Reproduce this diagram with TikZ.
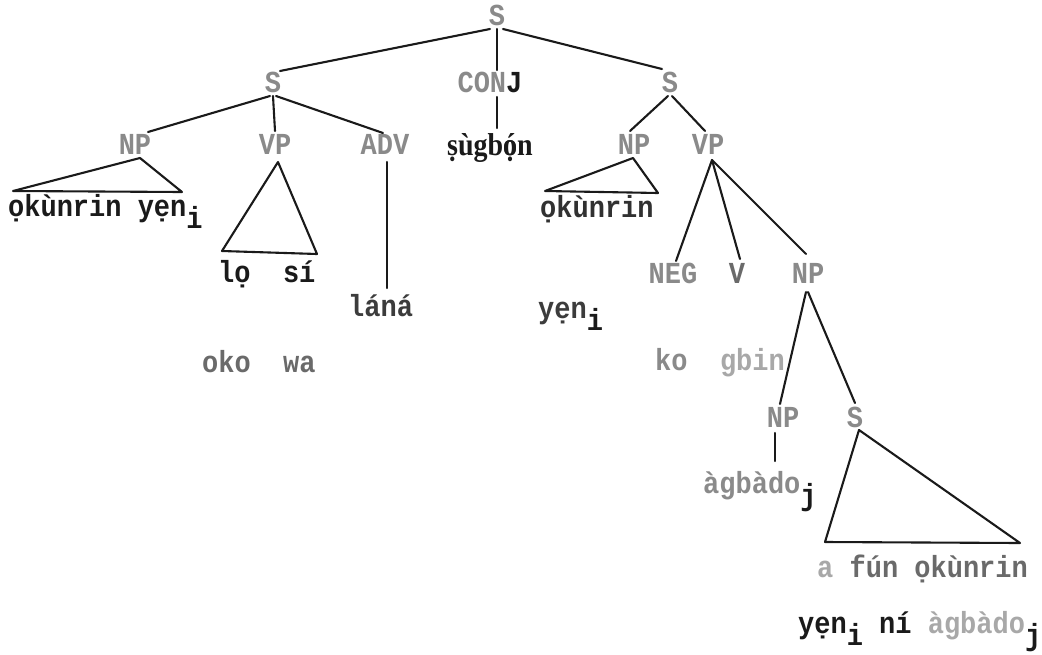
\documentclass[tikz,border=0pt]{standalone}
\usepackage{fontspec}
\usetikzlibrary{calc}
\newfontfamily\tw{Liberation Mono}
\newfontfamily\ser{Liberation Serif}
\definecolor{ink}{HTML}{1A1A1A}
\definecolor{labgray}{HTML}{8A8A8A}
\definecolor{midgray}{HTML}{6A6A6A}
\definecolor{palegray}{HTML}{A8A8A8}
\tikzset{
  lab/.style={font=\tw\bfseries\fontsize{27}{27}\selectfont, text=labgray, inner sep=0pt, anchor=base},
  word/.style={font=\tw\bfseries\fontsize{27}{27}\selectfont, text=ink, inner sep=0pt, anchor=base west},
  edge/.style={line width=2.1pt, draw=ink, line cap=round, line join=round},
}
\newcommand{\sub}[1]{\raisebox{-11pt}{#1}}
\newcommand{\ty}[1]{\scalebox{1}[1.13]{#1}}
\begin{document}
\begin{tikzpicture}[x=1pt,y=-1pt]
\useasboundingbox[fill=white] (0,0) rectangle (1042,654);
% labels
\node[lab] (S0) at (497,25) {\ty{S}};
\node[lab] (S1) at (273,92) {\ty{S}};
\node[lab] (CONJ) at (490,92) {\ty{CON{\color{ink}J}}};
\node[lab] (S2) at (670,92) {\ty{S}};
\node[lab] (NPa) at (135,154) {\ty{NP}};
\node[lab] (VPa) at (275,154) {\ty{VP}};
\node[lab] (ADV) at (385,154) {\ty{ADV}};
\node[lab] (NPb) at (634,154) {\ty{NP}};
\node[lab] (VPb) at (708,154) {\ty{VP}};
\node[lab] (NEG) at (673,283) {\ty{NEG}};
\node[lab] (V) at (737,283) {\ty{{\color{midgray}V}}};
\node[lab] (NPc) at (808,283) {\ty{NP}};
\node[lab] (NPd) at (783,427) {\ty{NP}};
\node[lab] (S3) at (855,427) {\ty{S}};
% words
\node[font=\ser\bfseries\fontsize{28}{28}\selectfont, text=ink, inner sep=0pt, anchor=base] (sg) at (490,155) {\ty{ṣùgb\rlap{ó}ọn}};
\node[word] (w1) at (8,216) {\ty{ọkùnrin yẹn\sub{i}}};
\node[word] (w2) at (218,282) {\ty{lọ~~sí}};
\node[word, text=ink!85] (w3) at (348,316) {\ty{láná}};
\node[word, text=midgray] (w4) at (202,372) {\ty{oko~~wa}};
\node[word, text=ink!90] (w5) at (540,217) {\ty{ọkùnrin}};
\node[word, text=ink!85] (w6) at (538,318) {\ty{yẹn{\color{ink}\sub{i}}}};
\node[word, text=labgray] (w7) at (655,370) {\ty{ko~~{\color{palegray}gbin}}};
\node[word, text=labgray] (w8) at (703,493) {\ty{àgbàdo{\color{ink}\sub{j}}}};
\node[word, text=midgray] (w9) at (817,577) {\ty{{\color{palegray}a} fún ọkùnrin}};
\node[word] (w10) at (798,633) {\ty{yẹn\sub{i} ní {\color{palegray}àgbàdo}\sub{j}}};
% connectors
\draw[edge] ($(S0.base)+(-7,4)$) -- ($(S1.base)+(7,-21)$);
\draw[edge] ($(S0.base)+(0,4)$) -- ($(CONJ.base)+(7,-22)$);
\draw[edge] ($(S0.base)+(6,4)$) -- ($(S2.base)+(-8,-23)$);
\draw[edge] ($(CONJ.base)+(7,5)$) -- ($(sg.base)+(7,-27)$);
\draw[edge] ($(S1.base)+(-3,4)$) -- ($(NPa.base)+(13,-22)$);
\draw[edge] ($(S1.base)+(0,4)$) -- ($(VPa.base)+(0,-23)$);
\draw[edge] ($(S1.base)+(3,4)$) -- ($(ADV.base)+(-2,-21)$);
\draw[edge] ($(S2.base)+(-2,4)$) -- ($(NPb.base)+(-4,-23)$);
\draw[edge] ($(S2.base)+(2,4)$) -- ($(VPb.base)+(-3,-23)$);
\draw[edge] ($(ADV.base)+(2,8)$) -- ($(w3.base west)+(39,-28)$);
\draw[edge] ($(VPb.base)+(4,6)$) -- ($(NEG.base)+(3,-22)$);
\draw[edge] ($(VPb.base)+(4,6)$) -- ($(V.base)+(3,-24)$);
\draw[edge] ($(VPb.base)+(4,6)$) -- ($(NPc.base)+(-2,-29)$);
\draw[edge] ($(NPc.base)+(-2,9)$) -- ($(NPd.base)+(-3,-23)$);
\draw[edge] ($(NPc.base)+(0,9)$) -- ($(S3.base)+(0,-24)$);
\draw[edge] ($(NPd.base)+(-8,6)$) -- ($(w8.base west)+(72,-32)$);
% triangles
\coordinate (ta1) at (13,191); \coordinate (ta2) at (182,192);
\draw[edge] ($(NPa.base)+(5,4)$) -- (ta1) -- (ta2) -- cycle;
\coordinate (tb1) at (222,251); \coordinate (tb2) at (317,254);
\draw[edge] ($(VPa.base)+(3,8)$) -- (tb1) -- (tb2) -- cycle;
\coordinate (tc1) at (545,191); \coordinate (tc2) at (658,193);
\draw[edge] ($(NPb.base)+(-1,4)$) -- (tc1) -- (tc2) -- cycle;
\coordinate (td1) at (825,542); \coordinate (td2) at (1020,543);
\draw[edge] ($(S3.base)+(4,3)$) -- (td1) -- (td2) -- cycle;
\end{tikzpicture}
\end{document}
